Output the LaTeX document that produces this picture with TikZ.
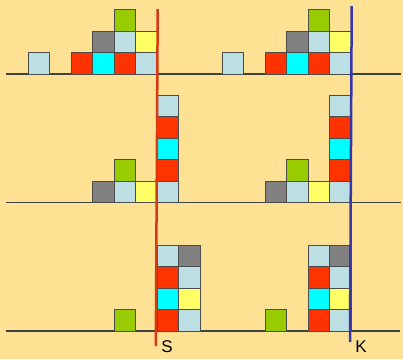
\documentclass[tikz,border=0pt]{standalone}
\usepackage{fontspec}
\setmainfont{Liberation Sans}
\definecolor{bg}{HTML}{FFE194}
\definecolor{cred}{HTML}{FF3300}
\definecolor{ccyan}{HTML}{00FFFF}
\definecolor{clb}{HTML}{BBDFE2}
\definecolor{cgray}{HTML}{808080}
\definecolor{cyel}{HTML}{FFFF66}
\definecolor{cgreen}{HTML}{99CC00}
\definecolor{lred}{RGB}{214,58,18}
\definecolor{lblue}{RGB}{55,55,170}
\newcommand\sq[5]{\filldraw[cellbox,fill=#5] ({71+(#4)+21.5*(#1)},{(#3)-21.5*(#2)}) rectangle ++(21.5,-21.5);}
\tikzset{
  cellbox/.style={draw=black!70,line width=0.8pt},
  baseln/.style={draw=black!75,line width=1.2pt},
  redln/.style={draw=lred,line width=2.5pt},
  blueln/.style={draw=lblue,line width=2.5pt},
  lab/.style={font=\fontsize{17}{17}\selectfont,inner sep=0pt}
}
\begin{document}
\begin{tikzpicture}[x=1pt,y=-1pt]
\fill[bg] (0,0) rectangle (403,359);
\useasboundingbox (0,0) rectangle (403,359);
% baselines
\draw[baseln] (6,74) -- (401,74);
\draw[baseln] (6,202.5) -- (401,202.5);
\draw[baseln] (6,331) -- (400,331);
% top panels
\foreach \dx in {0,194}{
  \sq{-2}{0}{74}{\dx}{clb}
  \sq{0}{0}{74}{\dx}{cred}
  \sq{1}{0}{74}{\dx}{ccyan}
  \sq{2}{0}{74}{\dx}{cred}
  \sq{3}{0}{74}{\dx}{clb}
  \sq{1}{1}{74}{\dx}{cgray}
  \sq{2}{1}{74}{\dx}{clb}
  \sq{3}{1}{74}{\dx}{cyel}
  \sq{2}{2}{74}{\dx}{cgreen}
}
% middle panels
\foreach \dx/\c in {0/1,194/0}{
  \sq{\c}{0}{202.5}{\dx}{cgray}
  \sq{\c+1}{0}{202.5}{\dx}{clb}
  \sq{\c+2}{0}{202.5}{\dx}{cyel}
  \sq{\c+3}{0}{202.5}{\dx}{clb}
  \sq{\c+1}{1}{202.5}{\dx}{cgreen}
  \sq{\c+3}{1}{202.5}{\dx}{cred}
  \sq{\c+3}{2}{202.5}{\dx}{ccyan}
  \sq{\c+3}{3}{202.5}{\dx}{cred}
  \sq{\c+3}{4}{202.5}{\dx}{clb}
}
% bottom panels
\foreach \dx/\g/\b in {0/2/4,194/0/2}{
  \sq{\g}{0}{331}{\dx}{cgreen}
  \sq{\b}{0}{331}{\dx}{cred}
  \sq{\b}{1}{331}{\dx}{ccyan}
  \sq{\b}{2}{331}{\dx}{cred}
  \sq{\b}{3}{331}{\dx}{clb}
  \sq{\b+1}{0}{331}{\dx}{clb}
  \sq{\b+1}{1}{331}{\dx}{cyel}
  \sq{\b+1}{2}{331}{\dx}{clb}
  \sq{\b+1}{3}{331}{\dx}{cgray}
}
% vertical lines
\coordinate (s1) at (157.7,9);
\coordinate (s2) at (155.8,346);
\coordinate (k1) at (351.7,6);
\coordinate (k2) at (350,342);
\draw[redln] (s1) -- (s2);
\draw[blueln] (k1) -- (k2);
\node[lab] (S) at (167,346.5) {S};
\node[lab] (K) at (361,347) {K};
\end{tikzpicture}
\end{document}
